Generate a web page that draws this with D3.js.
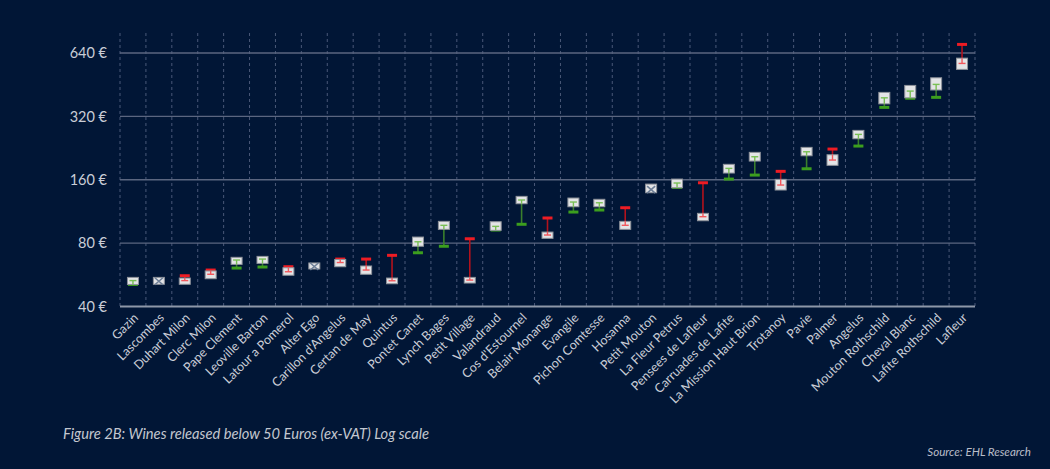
<!DOCTYPE html>
<html>
<head>
<meta charset="utf-8">
<script src="https://cdn.jsdelivr.net/npm/d3@7"></script>
<style>
  body { margin: 0; background: #011636; }
  svg { display: block; }
  text { font-family: Lato, "Open Sans", sans-serif; }
</style>
</head>
<body>
<svg width="1050" height="469"></svg>
<script>
// vins, triés par prix de sortie
const wines = ["Gazin", "Lascombes", "Duhart Milon", "Clerc Milon", "Pape Clement", "Leoville Barton",
  "Latour a Pomerol", "Alter Ego", "Carillon d'Angelus", "Certan de May", "Quintus", "Pontet Canet",
  "Lynch Bages", "Petit Village", "Valandraud", "Cos d'Estournel", "Belair Monange", "Evangile",
  "Pichon Comtesse", "Hosanna", "Petit Mouton", "La Fleur Petrus", "Pensees de Lafleur",
  "Carruades de Lafite", "La Mission Haut Brion", "Trotanoy", "Pavie", "Palmer", "Angelus",
  "Mouton Rothschild", "Cheval Blanc", "Lafite Rothschild", "Lafleur"];

// prix de sortie (barre épaisse)
const release = [50.9, 53, 56, 59.6, 60.9, 61.6, 61.8, 62.3, 67.2, 67.2, 70, 72, 77.3, 83.9, 92.3,
  98.3, 105.3, 112.4, 114.9, 117.8, 144.5, 147.2, 154.8, 161.2, 168.4, 175.4, 180.4, 223.8, 231.3,
  353, 390, 394, 703];
// prix actuel (petit trait dans la boîte)
const current = [53.1, 53, 53.1, 56.9, 66.5, 67.2, 58.5, 62.3, 64.7, 59.6, 53, 81.2, 97.2, 53.4, 96.1,
  128.2, 87.4, 125.4, 124.4, 97.2, 144.5, 154.4, 106.8, 181.2, 205.8, 151, 217.3, 198.5, 262.8,
  392, 422, 454, 571];
// fourchette de prix (boîte)
const rangeLow = [50.9, 51, 51, 54.2, 63.4, 64.1, 56.3, 60.3, 61.8, 56.9, 51.3, 77.3, 93, 51.7, 92,
  123.1, 84.3, 119.1, 119.1, 93, 138.8, 146.6, 102.2, 172.2, 196.3, 143, 208, 187.3, 250.5,
  367, 392, 427, 535];
const rangeHigh = [55, 55, 54.6, 59, 68.5, 69.2, 61.1, 64.4, 66.9, 62.3, 54.6, 85.5, 101.5, 55, 101.1,
  133.4, 90.3, 131, 129.2, 101.5, 152.6, 161.2, 110.8, 189.4, 215.9, 160.7, 228, 210.3, 274.6,
  416, 449, 488, 605];

const yTicks = [40, 80, 160, 320, 640];

const svg = d3.select("svg");
const plotLeft = 120, plotRight = 975, plotTop = 53, plotBottom = 306.5;

const x = d3.scaleBand().domain(wines).range([plotLeft, plotRight]).padding(0);
const y = d3.scaleLog().base(2).domain([40, 640]).range([plotBottom, plotTop]);

const data = wines.map((w, i) => ({
  name: w, release: release[i], current: current[i], lo: rangeLow[i], hi: rangeHigh[i]
}));

// lignes verticales pointillées
svg.append("g")
  .selectAll("line")
  .data(d3.range(wines.length + 1))
  .join("line")
  .attr("x1", i => plotLeft + i * x.bandwidth())
  .attr("x2", i => plotLeft + i * x.bandwidth())
  .attr("y1", 33).attr("y2", plotBottom)
  .attr("stroke", "#4a5878")
  .attr("stroke-width", 1)
  .attr("stroke-dasharray", "3,3");

// grille horizontale
svg.append("g")
  .selectAll("line")
  .data(yTicks)
  .join("line")
  .attr("x1", plotLeft).attr("x2", plotRight)
  .attr("y1", d => y(d)).attr("y2", d => y(d))
  .attr("stroke", d => d === 40 ? "#8e97a8" : "#5b6680")
  .attr("stroke-width", d => d === 40 ? 2 : 1.3);

// axe y
const yAxis = d3.axisLeft(y).tickValues(yTicks).tickFormat(d => d + " €").tickSize(0).tickPadding(13);
const gy = svg.append("g").attr("transform", `translate(${plotLeft},0)`).call(yAxis);
gy.select(".domain").remove();
gy.selectAll("text").attr("fill", "#c9cdd6").attr("font-size", 14.5);

// axe x
const xAxis = d3.axisBottom(x).tickSize(0).tickPadding(0);
const gx = svg.append("g").attr("transform", `translate(0,${plotBottom})`).call(xAxis);
gx.select(".domain").remove();
gx.selectAll("text")
  .attr("fill", "#c9cdd6")
  .attr("font-size", 12.5)
  .attr("text-anchor", "end")
  .attr("dy", 0)
  .attr("transform", "translate(6,12) rotate(-45)");

const col = d => d.current > d.release ? "up" : (d.current < d.release ? "down" : "flat");
const dark = { up: "#3a7f2c", down: "#b3121c", flat: "#7d8ca3" };
const bright = { up: "#3c9e1e", down: "#ee1c24", flat: "#7d8ca3" };
const light = { up: "#79bf55", down: "#f2575c", flat: "#6e7f97" };

const g = svg.append("g")
  .selectAll("g")
  .data(data)
  .join("g")
  .attr("transform", d => `translate(${x(d.name) + x.bandwidth() / 2},0)`);

// tige
g.filter(d => col(d) !== "flat").append("line")
  .attr("y1", d => y(d.current)).attr("y2", d => y(d.release))
  .attr("stroke", d => dark[col(d)]).attr("stroke-width", 1.6);

// barre du prix de sortie
g.filter(d => col(d) !== "flat").append("line")
  .attr("x1", -5).attr("x2", 5)
  .attr("y1", d => y(d.release)).attr("y2", d => y(d.release))
  .attr("stroke", d => bright[col(d)]).attr("stroke-width", 3);

// boîte
g.append("rect")
  .attr("x", -5.5).attr("width", 11)
  .attr("y", d => y(d.hi))
  .attr("height", d => y(d.lo) - y(d.hi))
  .attr("fill", "#e3e4e6")
  .attr("stroke", "#8e929a")
  .attr("stroke-width", 1);

// tige claire dans la boîte
g.filter(d => col(d) !== "flat").append("line")
  .attr("y1", d => y(d.current))
  .attr("y2", d => Math.max(y(d.hi), Math.min(y(d.lo), y(d.release))))
  .attr("stroke", d => light[col(d)]).attr("stroke-width", 1.4);

// trait du prix actuel
g.filter(d => col(d) !== "flat").append("line")
  .attr("x1", -3.5).attr("x2", 3.5)
  .attr("y1", d => y(d.current)).attr("y2", d => y(d.current))
  .attr("stroke", d => light[col(d)]).attr("stroke-width", 1.4);

// croix pour les prix inchangés
g.filter(d => col(d) === "flat").append("path")
  .attr("d", d => {
    const c = y(d.current);
    return `M-4,${c - 3}L4,${c + 4}M4,${c - 3}L-4,${c + 4}`;
  })
  .attr("stroke", light.flat).attr("stroke-width", 1.6).attr("fill", "none");

svg.append("text")
  .attr("x", 63).attr("y", 439)
  .attr("fill", "#c3c7d0").attr("font-size", 14.7).attr("font-style", "italic")
  .text("Figure 2B: Wines released below 50 Euros (ex-VAT) Log scale");

svg.append("text")
  .attr("x", 1031).attr("y", 456)
  .attr("text-anchor", "end")
  .attr("fill", "#b9bdc8").attr("font-size", 11.6).attr("font-style", "italic")
  .text("Source: EHL Research");
</script>
</body>
</html>
